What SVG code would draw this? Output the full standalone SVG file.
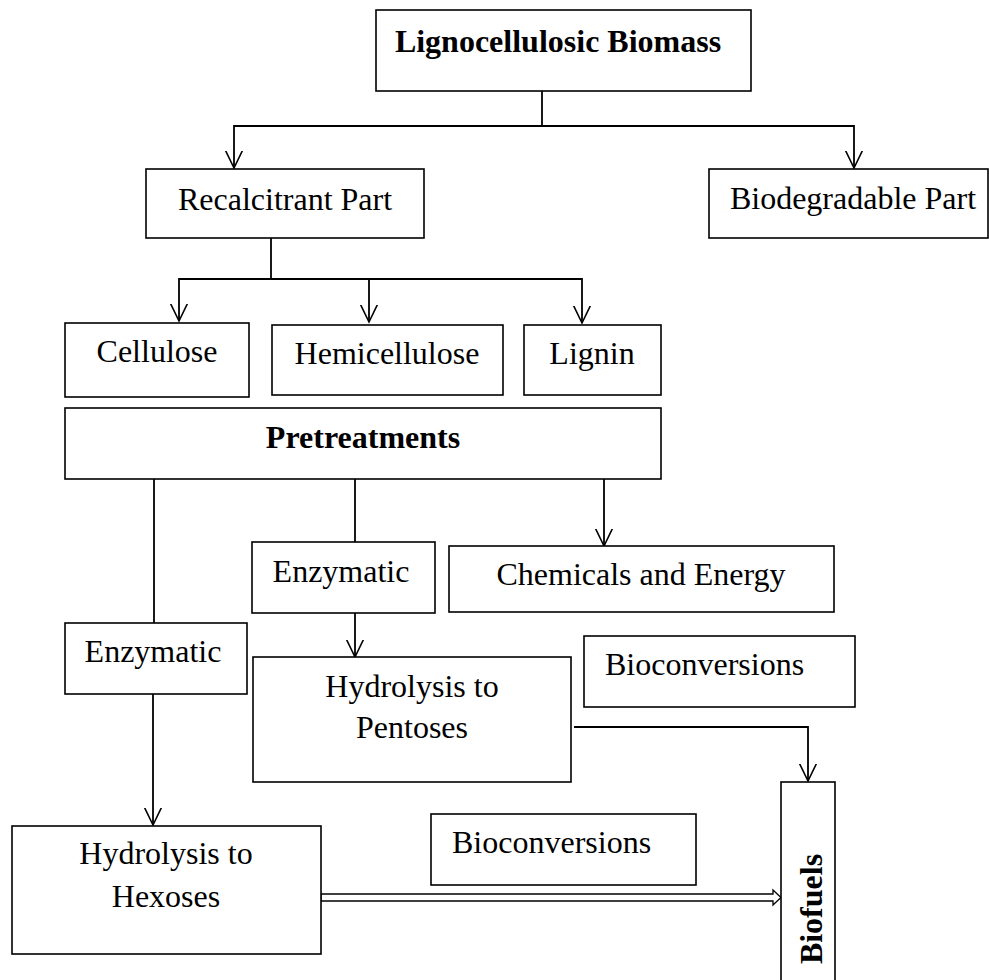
<svg xmlns="http://www.w3.org/2000/svg" width="989" height="980" viewBox="0 0 989 980">
<style>
.box{fill:#fff;stroke:#000;stroke-width:1.6}
.t{font-family:"Liberation Serif","Times New Roman",serif;font-size:32px;fill:#000}
.b{font-weight:bold}
.ln{fill:none;stroke:#000;stroke-width:1.8}
</style>
<defs>
<marker id="v" viewBox="0 0 20 20" markerWidth="20" markerHeight="20" refX="17.5" refY="9" orient="auto" markerUnits="userSpaceOnUse">
<path d="M0,0.5 L17.5,9 L0,17.5" fill="none" stroke="#000" stroke-width="1.6"/>
</marker>
</defs>
<rect width="989" height="980" fill="#fff"/>
<g id="connectors">
<path class="ln" d="M542,91 V126"/>
<path class="ln" d="M542,126 H234 V168" marker-end="url(#v)"/>
<path class="ln" d="M542,126 H854 V168" marker-end="url(#v)"/>
<path class="ln" d="M271,238 V279"/>
<path class="ln" d="M271,279 H179 V321" marker-end="url(#v)"/>
<path class="ln" d="M369,279 V322" marker-end="url(#v)"/>
<path class="ln" d="M271,279 H582 V323" marker-end="url(#v)"/>
<path class="ln" d="M154,479 V623"/>
<path class="ln" d="M153,694 V825" marker-end="url(#v)"/>
<path class="ln" d="M355,479 V542"/>
<path class="ln" d="M355,613 V657" marker-end="url(#v)"/>
<path class="ln" d="M604,479 V546" marker-end="url(#v)"/>
<path class="ln" d="M574,727 H808 V781" marker-end="url(#v)"/>
<polygon points="321,894 773,894 773,890 781,897.5 773,905 773,901 321,901" fill="#fff" stroke="#000" stroke-width="1.3"/>
</g>
<g id="n-biomass"><rect class="box" x="376" y="10" width="375" height="81"/><text class="t b" x="558" y="52" text-anchor="middle">Lignocellulosic Biomass</text></g>
<g id="n-recalcitrant"><rect class="box" x="146" y="169" width="278" height="69"/><text class="t" x="285" y="210" text-anchor="middle">Recalcitrant Part</text></g>
<g id="n-biodegradable"><rect class="box" x="709" y="169" width="279" height="69"/><text class="t" x="853" y="209" text-anchor="middle">Biodegradable Part</text></g>
<g id="n-cellulose"><rect class="box" x="65" y="323" width="184" height="74"/><text class="t" x="157" y="362" text-anchor="middle">Cellulose</text></g>
<g id="n-hemicellulose"><rect class="box" x="272" y="325" width="231" height="70"/><text class="t" x="387" y="364" text-anchor="middle">Hemicellulose</text></g>
<g id="n-lignin"><rect class="box" x="524" y="325" width="137" height="70"/><text class="t" x="592" y="364" text-anchor="middle">Lignin</text></g>
<g id="n-pretreatments"><rect class="box" x="65" y="408" width="596" height="71"/><text class="t b" x="363" y="448" text-anchor="middle">Pretreatments</text></g>
<g id="n-enzymatic2"><rect class="box" x="252" y="542" width="183" height="71"/><text class="t" x="341" y="582" text-anchor="middle">Enzymatic</text></g>
<g id="n-chemicals"><rect class="box" x="449" y="546" width="385" height="66"/><text class="t" x="641" y="585" text-anchor="middle">Chemicals and Energy</text></g>
<g id="n-enzymatic1"><rect class="box" x="65" y="623" width="182" height="71"/><text class="t" x="153" y="662" text-anchor="middle">Enzymatic</text></g>
<g id="n-bioconv1"><rect class="box" x="584" y="636" width="271" height="71"/><text class="t" x="605" y="675">Bioconversions</text></g>
<g id="n-pentoses"><rect class="box" x="253" y="657" width="318" height="125"/><text class="t" x="412" y="697" text-anchor="middle">Hydrolysis to</text><text class="t" x="412" y="738" text-anchor="middle">Pentoses</text></g>
<g id="n-bioconv2"><rect class="box" x="431" y="814" width="265" height="71"/><text class="t" x="452" y="853">Bioconversions</text></g>
<g id="n-hexoses"><rect class="box" x="12" y="826" width="309" height="128"/><text class="t" x="166" y="864" text-anchor="middle">Hydrolysis to</text><text class="t" x="166" y="907" text-anchor="middle">Hexoses</text></g>
<g id="n-biofuels"><rect class="box" x="781" y="782" width="54" height="210"/><text class="t b" transform="translate(822,909) rotate(-90)" text-anchor="middle">Biofuels</text></g>
</svg>
